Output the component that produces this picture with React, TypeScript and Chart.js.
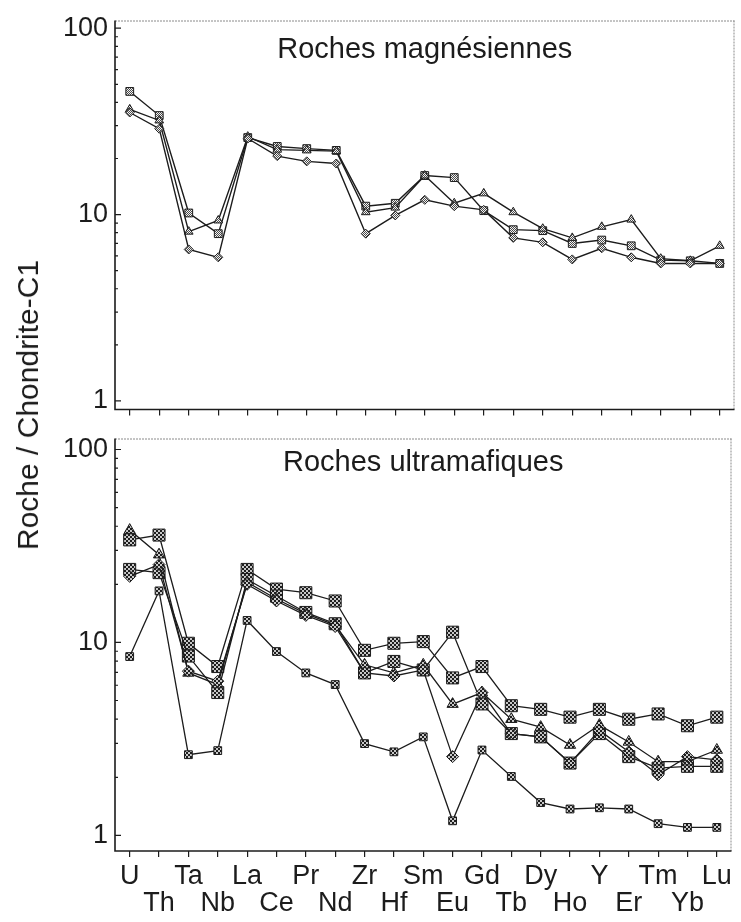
import React, { useEffect, useRef } from "react";
import { Chart, registerables } from "chart.js";

Chart.register(...registerables);

// ---------- data ----------
const elements = ["U", "Th", "Ta", "Nb", "La", "Ce", "Pr", "Nd", "Zr", "Hf", "Sm", "Eu", "Gd", "Tb", "Dy", "Ho", "Y", "Er", "Tm", "Yb", "Lu"];
const yTickValues = [1, 10, 100];
const topTitle = "Roches magnésiennes";
const bottomTitle = "Roches ultramafiques";
const yAxisTitle = "Roche / Chondrite-C1";

// Roches magnésiennes
const magSquare = [45.8, 34.0, 10.2, 7.9, 25.9, 23.2, 22.6, 22.1, 11.1, 11.5, 16.2, 15.8, 10.5, 8.3, 8.2, 7.0, 7.3, 6.8, 5.7, 5.65, 5.47];
const magTriangle = [36.7, 32.0, 8.1, 9.3, 26.2, 22.3, 22.1, 21.9, 10.3, 10.9, 16.2, 11.5, 13.0, 10.3, 8.4, 7.5, 8.6, 9.4, 5.8, 5.65, 6.8];
const magDiamond = [35.3, 28.9, 6.5, 5.9, 25.6, 20.6, 19.3, 18.8, 7.9, 9.9, 12.0, 11.1, 10.6, 7.5, 7.1, 5.75, 6.6, 5.9, 5.47, 5.47, 5.47];

// Roches ultramafiques
const ultraA = [34.0, 36.0, 9.9, 7.5, 23.9, 18.9, 18.1, 16.4, 9.1, 9.9, 10.1, 6.55, 7.5, 4.7, 4.5, 4.1, 4.5, 4.0, 4.26, 3.7, 4.1];
const ultraB = [23.9, 23.0, 8.5, 5.5, 21.2, 17.4, 14.3, 12.5, 6.95, 7.97, 7.2, 11.3, 4.8, 3.37, 3.24, 2.37, 3.37, 2.56, 2.23, 2.28, 2.28];
const ultraC = [38.2, 28.5, 6.95, 6.05, 20.5, 16.8, 14.1, 12.3, 7.66, 6.95, 7.66, 4.79, 5.5, 4.0, 3.64, 2.94, 3.73, 3.05, 2.41, 2.41, 2.77];
const ultraD = [22.0, 25.3, 7.1, 6.3, 20.0, 16.4, 13.8, 12.1, 6.95, 6.7, 7.2, 2.56, 5.5, 3.37, 3.24, 2.37, 3.5, 2.71, 2.06, 2.56, 2.46];
const ultraE = [8.45, 18.5, 2.62, 2.75, 13.0, 8.97, 6.95, 6.05, 2.99, 2.71, 3.24, 1.19, 2.77, 2.02, 1.48, 1.37, 1.39, 1.37, 1.15, 1.1, 1.1];

// ---------- styling ----------
const FONT = '"Liberation Sans", Arial, Helvetica, sans-serif';
const INK = "#1c1c1c";

function makePattern(dark: string, light: string, cell: number) {
  const c = document.createElement("canvas");
  c.width = cell * 2;
  c.height = cell * 2;
  const g = c.getContext("2d")!;
  g.fillStyle = light;
  g.fillRect(0, 0, c.width, c.height);
  g.fillStyle = dark;
  g.fillRect(0, 0, cell, cell);
  g.fillRect(cell, cell, cell, cell);
  return g.createPattern(c, "repeat");
}

const framePlugin = {
  id: "frame",
  beforeDatasetsDraw(chart: any, _args: any, opts: any) {
    const { ctx, chartArea } = chart;
    const { left, right, top, bottom } = chartArea;
    const ys = chart.scales.y;
    ctx.save();
    // top and right edges: light dotted
    ctx.strokeStyle = "#8a8a8a";
    ctx.lineWidth = 1;
    ctx.setLineDash([2, 1]);
    ctx.beginPath();
    ctx.moveTo(left, top + 0.5);
    ctx.lineTo(right, top + 0.5);
    ctx.moveTo(right - 0.5, top);
    ctx.lineTo(right - 0.5, bottom);
    ctx.stroke();
    ctx.setLineDash([]);
    // left and bottom: solid
    ctx.strokeStyle = INK;
    ctx.lineWidth = 1.6;
    ctx.beginPath();
    ctx.moveTo(left, top);
    ctx.lineTo(left, bottom);
    ctx.lineTo(right, bottom);
    ctx.stroke();
    // inward ticks on the log axis
    ctx.lineWidth = 1.2;
    ctx.beginPath();
    for (let d = 1; d <= 10; d *= 10) {
      for (let m = 1; m <= 9; m++) {
        const v = d * m;
        const py = ys.getPixelForValue(v);
        const len = m === 1 ? 6 : 3;
        ctx.moveTo(left, py);
        ctx.lineTo(left + len, py);
      }
    }
    const p100 = ys.getPixelForValue(100);
    ctx.moveTo(left, p100);
    ctx.lineTo(left + 6, p100);
    ctx.stroke();
    // title inside the plot
    ctx.fillStyle = INK;
    ctx.font = `29px ${FONT}`;
    ctx.textAlign = "center";
    ctx.textBaseline = "alphabetic";
    ctx.fillText(opts.text, (left + right) / 2, top + opts.offset);
    ctx.restore();
  },
};

function buildOptions(cfg: {
  min: number;
  max: number;
  padTop: number;
  xHeight: number;
  showLabels: boolean;
  title: string;
  titleOffset: number;
}) {
  return {
    animation: false,
    responsive: false,
    maintainAspectRatio: false,
    layout: { padding: { top: cfg.padTop, right: 6, left: 0, bottom: 0 } },
    plugins: {
      legend: { display: false },
      tooltip: { enabled: false },
      frame: { text: cfg.title, offset: cfg.titleOffset },
    },
    scales: {
      x: {
        type: "category",
        offset: true,
        grid: {
          display: true,
          drawOnChartArea: false,
          drawTicks: true,
          tickLength: 6,
          color: INK,
          lineWidth: 1.2,
        },
        border: { display: false },
        ticks: {
          display: cfg.showLabels,
          autoSkip: false,
          maxRotation: 0,
          minRotation: 0,
          padding: 6,
          color: INK,
          font: { family: FONT, size: 27, lineHeight: 1 },
          callback: (_v: any, i: number) => (i % 2 === 0 ? [elements[i], ""] : ["", elements[i]]),
        },
        afterFit: (s: any) => {
          s.height = cfg.xHeight;
        },
      },
      y: {
        type: "logarithmic",
        min: cfg.min,
        max: cfg.max,
        grid: { display: false, drawTicks: false },
        border: { display: false },
        afterBuildTicks: (s: any) => {
          s.ticks = yTickValues.map((v) => ({ value: v }));
        },
        ticks: {
          padding: 7,
          color: INK,
          font: { family: FONT, size: 27, lineHeight: 1 },
          callback: (v: any) => String(v),
        },
        afterFit: (s: any) => {
          s.width = 115;
        },
      },
    },
  };
}

function ds(data: number[], style: string, radius: number, fill: any, line = 1.3) {
  return {
    data,
    borderColor: INK,
    borderWidth: line,
    pointStyle: style,
    pointRadius: radius,
    pointBackgroundColor: fill,
    pointBorderColor: INK,
    pointBorderWidth: 1,
    fill: false,
    tension: 0,
  };
}

export default function App() {
  const topRef = useRef<HTMLCanvasElement>(null);
  const botRef = useRef<HTMLCanvasElement>(null);

  useEffect(() => {
    const lightFill = makePattern("#4a4a4a", "#f2f2f2", 1);
    const darkFill = makePattern("#1e1e1e", "#c8c8c8", 2);

    const top = new Chart(topRef.current!, {
      type: "line",
      data: {
        labels: elements,
        datasets: [
          ds(magDiamond, "rectRot", 4.5, lightFill, 1.4),
          ds(magTriangle, "triangle", 5, lightFill, 1.4),
          ds(magSquare, "rect", 5.5, lightFill, 1.4),
        ],
      },
      options: buildOptions({
        min: 0.9,
        max: 110,
        padTop: 15,
        xHeight: 13,
        showLabels: false,
        title: topTitle,
        titleOffset: 37,
      }) as any,
      plugins: [framePlugin],
    });

    const bottom = new Chart(botRef.current!, {
      type: "line",
      data: {
        labels: elements,
        datasets: [
          ds(ultraE, "rect", 5.5, darkFill),
          ds(ultraD, "rectRot", 6, darkFill),
          ds(ultraC, "triangle", 6.5, darkFill),
          ds(ultraB, "rect", 8.5, darkFill),
          ds(ultraA, "rect", 8.5, darkFill),
        ],
      },
      options: buildOptions({
        min: 0.83,
        max: 114,
        padTop: 14,
        xHeight: 71,
        showLabels: true,
        title: bottomTitle,
        titleOffset: 32,
      }) as any,
      plugins: [framePlugin],
    });

    return () => {
      top.destroy();
      bottom.destroy();
    };
  }, []);

  return (
    <div style={{ position: "absolute", left: 0, top: 0, width: 741, height: 922, background: "#fff", overflow: "hidden" }}>
      <canvas ref={topRef} width={741} height={430} style={{ position: "absolute", left: 0, top: 0, width: 741, height: 430 }} />
      <canvas ref={botRef} width={741} height={504} style={{ position: "absolute", left: 0, top: 418, width: 741, height: 504 }} />
      <div
        style={{
          position: "absolute",
          left: 28,
          top: 405,
          transform: "translate(-50%, -50%) rotate(-90deg)",
          whiteSpace: "nowrap",
          font: `30px ${FONT}`,
          color: INK,
        }}
      >
        {yAxisTitle}
      </div>
    </div>
  );
}
